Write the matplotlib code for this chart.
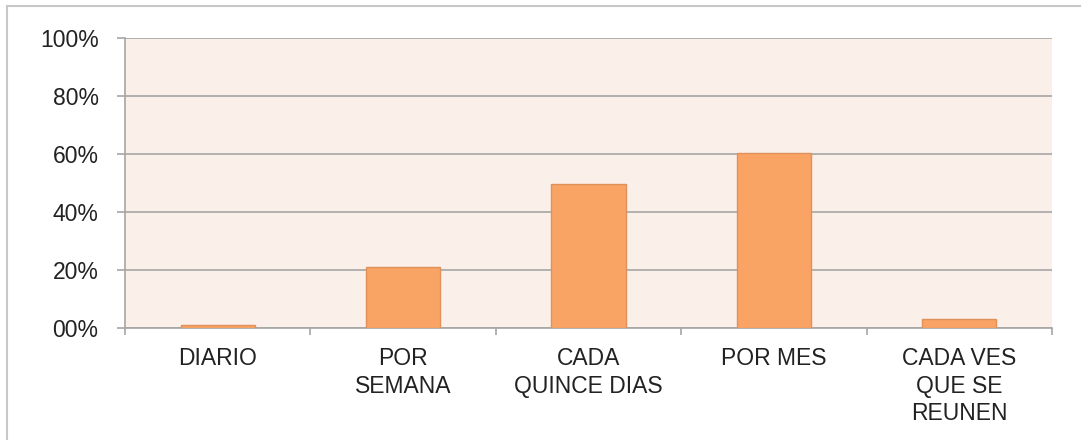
import matplotlib.pyplot as plt
from matplotlib.patches import Rectangle
import numpy as np

categorias = ["DIARIO", "POR\nSEMANA", "CADA\nQUINCE DIAS", "POR MES", "CADA VES\nQUE SE\nREUNEN"]
valores = [1, 21, 49.5, 60.5, 3]
ticks_y = [0, 20, 40, 60, 80, 100]
etiquetas_y = ["00%", "20%", "40%", "60%", "80%", "100%"]

plt.rcParams['font.family'] = ['Liberation Sans', 'DejaVu Sans']

fig = plt.figure(figsize=(10.81, 4.40), dpi=100)
ax = fig.add_axes([125/1081, 112/440, (1052-125)/1081, 290/440])
ax.set_facecolor('#fbefea')

x = np.arange(len(categorias))
ax.bar(x, valores, width=0.4, color='#f9a464', edgecolor='#e0905a', linewidth=1, zorder=3)

ax.set_xlim(-0.5, len(categorias) - 0.5)
ax.set_ylim(0, 100)
ax.set_yticks(ticks_y)
ax.set_yticklabels(etiquetas_y, fontsize=16.5, color='#222222')
ax.yaxis.grid(True, color='#a6a6a6', linewidth=1.2, zorder=1)

ax.set_xticks(np.arange(-0.5, len(categorias)), minor=False)
ax.set_xticklabels([])
ax.set_xticks(x, minor=True)
ax.set_xticklabels(categorias, minor=True, fontsize=16.5, color='#222222', va='top', linespacing=1.25)
ax.tick_params(axis='x', which='minor', length=0, pad=14)
ax.tick_params(axis='x', which='major', length=5, color='#a6a6a6', width=1.2)
ax.tick_params(axis='y', length=6, color='#a6a6a6', width=1.2, pad=13)

for s in ['top', 'right']:
    ax.spines[s].set_visible(False)
for s in ['left', 'bottom']:
    ax.spines[s].set_color('#a6a6a6')
    ax.spines[s].set_linewidth(1.2)

fig.patches.append(Rectangle((7/1081, -0.02), 1.1, 1 - 6/440 + 0.02,
                             transform=fig.transFigure, fill=False,
                             edgecolor='#c8c8c8', linewidth=1.5))

fig.savefig('out.png', dpi=100)
